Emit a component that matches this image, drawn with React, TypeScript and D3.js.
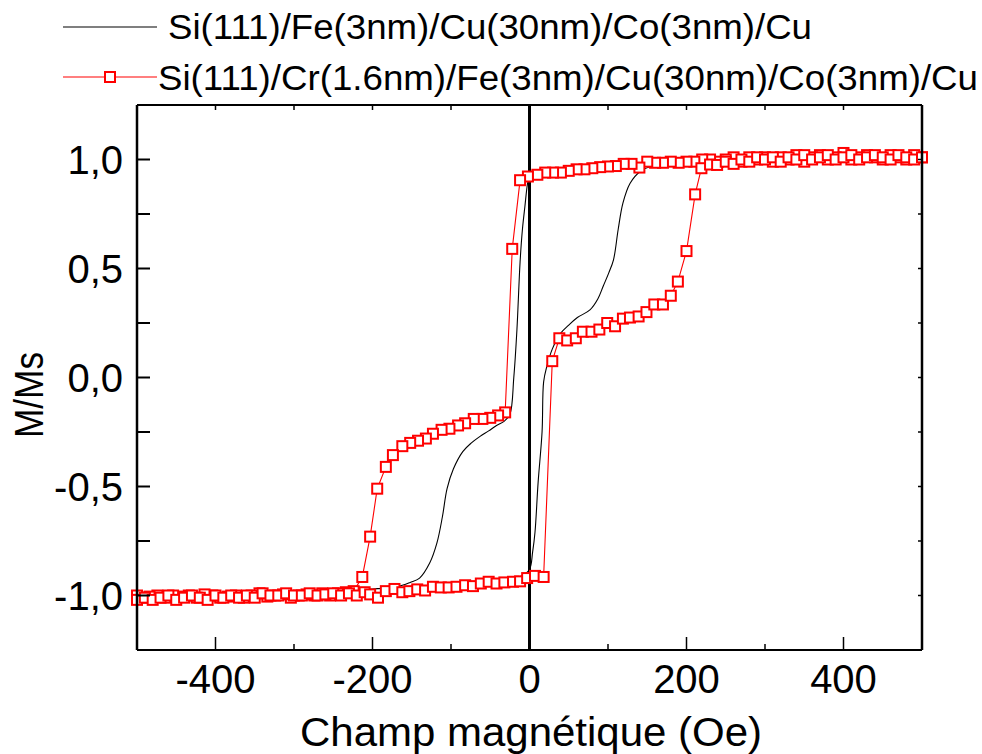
import React from "react";
import * as d3 from "d3";

// ---- Data ----
const blackDescH = [500, 400, 300, 200, 150, 100, 50, 10, 0, -2, -6, -9, -12, -16, -20, -25, -32, -42, -52, -63, -74, -85, -97, -105, -111, -118, -127, -140, -152, -169, -200, -250, -300, -400, -500];
const blackDescM = [1.0, 1.0, 0.995, 0.985, 0.975, 0.962, 0.95, 0.935, 0.92, 0.9, 0.78, 0.68, 0.53, 0.22, 0.0, -0.17, -0.2, -0.22, -0.245, -0.27, -0.3, -0.34, -0.42, -0.51, -0.64, -0.76, -0.85, -0.92, -0.94, -0.96, -0.97, -0.98, -0.99, -1.0, -1.0];
const blackAscH = [-500, -400, -300, -200, -100, -50, -10, 0, 4, 7, 11, 16, 18, 22, 29, 39, 50, 61, 77, 87, 94, 101, 107, 113, 119, 128, 141, 157, 200, 300, 400, 500];
const blackAscM = [-1.0, -1.0, -0.99, -0.97, -0.95, -0.93, -0.91, -0.88, -0.8, -0.71, -0.48, -0.25, -0.02, 0.05, 0.13, 0.2, 0.24, 0.275, 0.31, 0.36, 0.42, 0.48, 0.54, 0.68, 0.8, 0.89, 0.945, 0.97, 0.985, 0.995, 1.0, 1.0];

const redDescH = [500, 490, 480, 470, 460, 450, 440, 430, 420, 410, 400, 390, 380, 370, 360, 350, 340, 330, 320, 310, 300, 290, 280, 270, 260, 250, 240, 230, 220, 210, 200, 190, 180, 170, 160, 150, 140, 130, 120, 110, 100, 90, 80, 70, 60, 50, 40, 30, 20, 10, -2, -12, -22, -31, -40, -50, -60, -71, -82, -91, -102, -112, -123, -132, -142, -152, -162, -174, -183, -194, -203, -213, -224, -234, -244, -254, -264, -274, -284, -294, -304, -314, -324, -334, -344, -354, -364, -374, -384, -394, -404, -414, -424, -434, -444, -454, -464, -474, -484, -494, -500];
const redDescM = [1.01, 1.02, 1.0, 1.01, 1.02, 1.0, 1.01, 1.02, 1.01, 1.0, 1.03, 1.01, 1.0, 1.02, 1.01, 0.99, 1.02, 1.0, 1.01, 0.99, 1.01, 1.0, 1.01, 0.99, 1.01, 1.0, 0.99, 1.0, 1.0, 0.99, 0.99, 0.985, 0.99, 0.985, 0.985, 0.99, 0.963, 0.98, 0.98, 0.97, 0.968, 0.965, 0.96, 0.955, 0.955, 0.948, 0.94, 0.94, 0.94, 0.93, 0.922, 0.905, 0.59, -0.16, -0.174, -0.185, -0.19, -0.19, -0.21, -0.22, -0.235, -0.24, -0.258, -0.28, -0.29, -0.3, -0.315, -0.356, -0.41, -0.51, -0.73, -0.915, -0.98, -0.985, -0.99, -1.0, -0.99, -1.0, -0.995, -1.0, -1.01, -0.995, -1.0, -1.005, -0.99, -1.0, -1.01, -1.0, -1.005, -1.01, -1.0, -0.995, -1.01, -1.0, -1.005, -1.0, -1.01, -1.0, -1.005, -1.01, -1.0];
const redAscH = [-500, -490, -480, -470, -460, -450, -440, -430, -420, -410, -400, -390, -380, -370, -360, -350, -340, -330, -320, -310, -300, -290, -280, -270, -260, -250, -240, -230, -220, -210, -203, -193, -183, -172, -162, -153, -143, -133, -123, -113, -103, -93, -82, -72, -62, -52, -42, -32, -21, -12, -3, 7, 18, 29, 38, 48, 59, 68, 79, 89, 99, 109, 119, 128, 139, 149, 159, 170, 180, 189, 200, 211, 219, 230, 239, 250, 260, 270, 280, 290, 300, 310, 320, 330, 340, 350, 360, 370, 380, 390, 400, 410, 420, 430, 440, 450, 460, 470, 480, 490, 500];
const redAscM = [-1.02, -1.01, -1.02, -1.01, -1.0, -1.02, -1.01, -1.0, -1.01, -1.02, -1.0, -1.01, -1.0, -1.01, -1.0, -1.01, -0.99, -1.0, -1.0, -0.99, -1.0, -1.0, -0.99, -1.0, -0.995, -0.99, -1.0, -0.99, -1.0, -0.985, -0.995, -1.01, -0.98, -0.97, -0.985, -0.98, -0.972, -0.977, -0.96, -0.963, -0.963, -0.96, -0.953, -0.957, -0.945, -0.937, -0.945, -0.94, -0.937, -0.935, -0.92, -0.91, -0.915, 0.075, 0.18, 0.17, 0.18, 0.21, 0.21, 0.22, 0.25, 0.235, 0.27, 0.275, 0.28, 0.3, 0.335, 0.335, 0.375, 0.44, 0.58, 0.84, 0.96, 0.977, 0.975, 0.99, 0.98, 1.0, 0.99, 1.01, 1.0, 1.01, 0.99, 1.01, 1.0, 1.02, 1.0, 1.01, 1.02, 1.0, 1.01, 1.02, 1.0, 1.01, 1.02, 1.01, 1.0, 1.02, 1.01, 1.0, 1.01];

const xTicksMajor = [-400, -200, 0, 200, 400];
const xTickLabels = ["-400", "-200", "0", "200", "400"];
const xTicksMinor = [-500, -300, -100, 100, 300, 500];
const yTicksMajor = [-1.0, -0.5, 0.0, 0.5, 1.0];
const yTickLabels = ["-1,0", "-0,5", "0,0", "0,5", "1,0"];
const yTicksAll = [-1.25, -1.0, -0.75, -0.5, -0.25, 0, 0.25, 0.5, 0.75, 1.0, 1.25];
const topTicks = [-500, -400, -300, -200, -100, 0, 100, 200, 300, 400, 500];

const legend1 = "Si(111)/Fe(3nm)/Cu(30nm)/Co(3nm)/Cu";
const legend2 = "Si(111)/Cr(1.6nm)/Fe(3nm)/Cu(30nm)/Co(3nm)/Cu";
const xTitle = "Champ magnétique (Oe)";
const yTitle = "M/Ms";

const FONT = "'Liberation Sans', Arial, sans-serif";

export default function App() {
  const W = 982, H = 754;
  const L = 137, R = 922, T = 105, B = 650;
  const x = d3.scaleLinear().domain([-500, 500]).range([L, R]);
  const y = d3.scaleLinear().domain([-1.25, 1.25]).range([B, T]);

  const blackPts: [number, number][] = [
    ...blackDescH.map((h, i) => [h, blackDescM[i]] as [number, number]),
    ...blackAscH.map((h, i) => [h, blackAscM[i]] as [number, number]),
  ];
  const redDesc: [number, number][] = redDescH.map((h, i) => [h, redDescM[i]]);
  const redAsc: [number, number][] = redAscH.map((h, i) => [h, redAscM[i]]);

  const smooth = d3
    .line<[number, number]>()
    .x((d) => x(d[0]))
    .y((d) => y(d[1]))
    .curve(d3.curveCatmullRom.alpha(0.5));
  const lin = d3
    .line<[number, number]>()
    .x((d) => x(d[0]))
    .y((d) => y(d[1]));

  const ms = 10;
  const redAll = [...redDesc, ...redAsc];

  return (
    <svg width={W} height={H} style={{ position: "absolute", left: 0, top: 0 }} fontFamily={FONT}>
      <rect x={0} y={0} width={W} height={H} fill="#fff" />
      {/* zero line */}
      <line x1={x(0)} x2={x(0)} y1={T} y2={B} stroke="#000" strokeWidth={3} />
      {/* black loop */}
      <path d={smooth(blackPts) || ""} fill="none" stroke="#000" strokeWidth={1.1} />
      {/* red loop */}
      <path d={lin(redDesc) || ""} fill="none" stroke="#ff0000" strokeWidth={1.1} />
      <path d={lin(redAsc) || ""} fill="none" stroke="#ff0000" strokeWidth={1.1} />
      {redAll.map((d, i) => (
        <rect key={i} x={x(d[0]) - ms / 2} y={y(d[1]) - ms / 2} width={ms} height={ms} fill="#fff" stroke="#ff0000" strokeWidth={2} />
      ))}
      {/* frame */}
      <line x1={L} x2={L} y1={T} y2={B} stroke="#000" strokeWidth={2.5} />
      <line x1={R} x2={R} y1={T} y2={B} stroke="#000" strokeWidth={2.5} />
      <line x1={L} x2={R} y1={T} y2={T} stroke="#000" strokeWidth={2} />
      <line x1={L} x2={R} y1={B} y2={B} stroke="#000" strokeWidth={2} />
      {/* left ticks */}
      {yTicksAll.map((v, i) => (
        <line key={"yl" + i} x1={L} x2={L + 13} y1={y(v)} y2={y(v)} stroke="#000" strokeWidth={2} />
      ))}
      {/* right ticks */}
      {yTicksAll.map((v, i) => (
        <line key={"yr" + i} x1={R} x2={R - 4} y1={y(v)} y2={y(v)} stroke="#000" strokeWidth={1.5} />
      ))}
      {/* bottom ticks */}
      {xTicksMajor.map((v, i) => (
        <line key={"xb" + i} x1={x(v)} x2={x(v)} y1={B} y2={B - 13} stroke="#000" strokeWidth={1.5} />
      ))}
      {xTicksMinor.map((v, i) => (
        <line key={"xm" + i} x1={x(v)} x2={x(v)} y1={B} y2={B - 6} stroke="#000" strokeWidth={1.5} />
      ))}
      {/* top ticks */}
      {topTicks.map((v, i) => (
        <line key={"xt" + i} x1={x(v)} x2={x(v)} y1={T} y2={T + 5} stroke="#000" strokeWidth={1.5} />
      ))}
      {/* tick labels */}
      {xTicksMajor.map((v, i) => (
        <text key={"xlab" + i} x={x(v)} y={693} textAnchor="middle" fontSize={40} fill="#000">
          {xTickLabels[i]}
        </text>
      ))}
      {yTicksMajor.map((v, i) => (
        <text key={"ylab" + i} x={123} y={y(v) + 14} textAnchor="end" fontSize={40} fill="#000">
          {yTickLabels[i]}
        </text>
      ))}
      {/* axis titles */}
      <text x={531} y={746} textAnchor="middle" fontSize={40} fill="#000" textLength={462} lengthAdjust="spacingAndGlyphs">
        {xTitle}
      </text>
      <text transform="translate(43,395) rotate(-90)" textAnchor="middle" fontSize={40} fill="#000" textLength={86} lengthAdjust="spacingAndGlyphs">
        {yTitle}
      </text>
      {/* legend */}
      <line x1={63} x2={157} y1={27} y2={27} stroke="#000" strokeWidth={1.2} />
      <text x={168} y={39} fontSize={35} fill="#000" textLength={644} lengthAdjust="spacingAndGlyphs">
        {legend1}
      </text>
      <line x1={63} x2={157} y1={77} y2={77} stroke="#ff0000" strokeWidth={1.2} />
      <rect x={110 - 5} y={77 - 5} width={10} height={10} fill="#fff" stroke="#ff0000" strokeWidth={2} />
      <text x={158} y={90} fontSize={35} fill="#000" textLength={820} lengthAdjust="spacingAndGlyphs">
        {legend2}
      </text>
    </svg>
  );
}
